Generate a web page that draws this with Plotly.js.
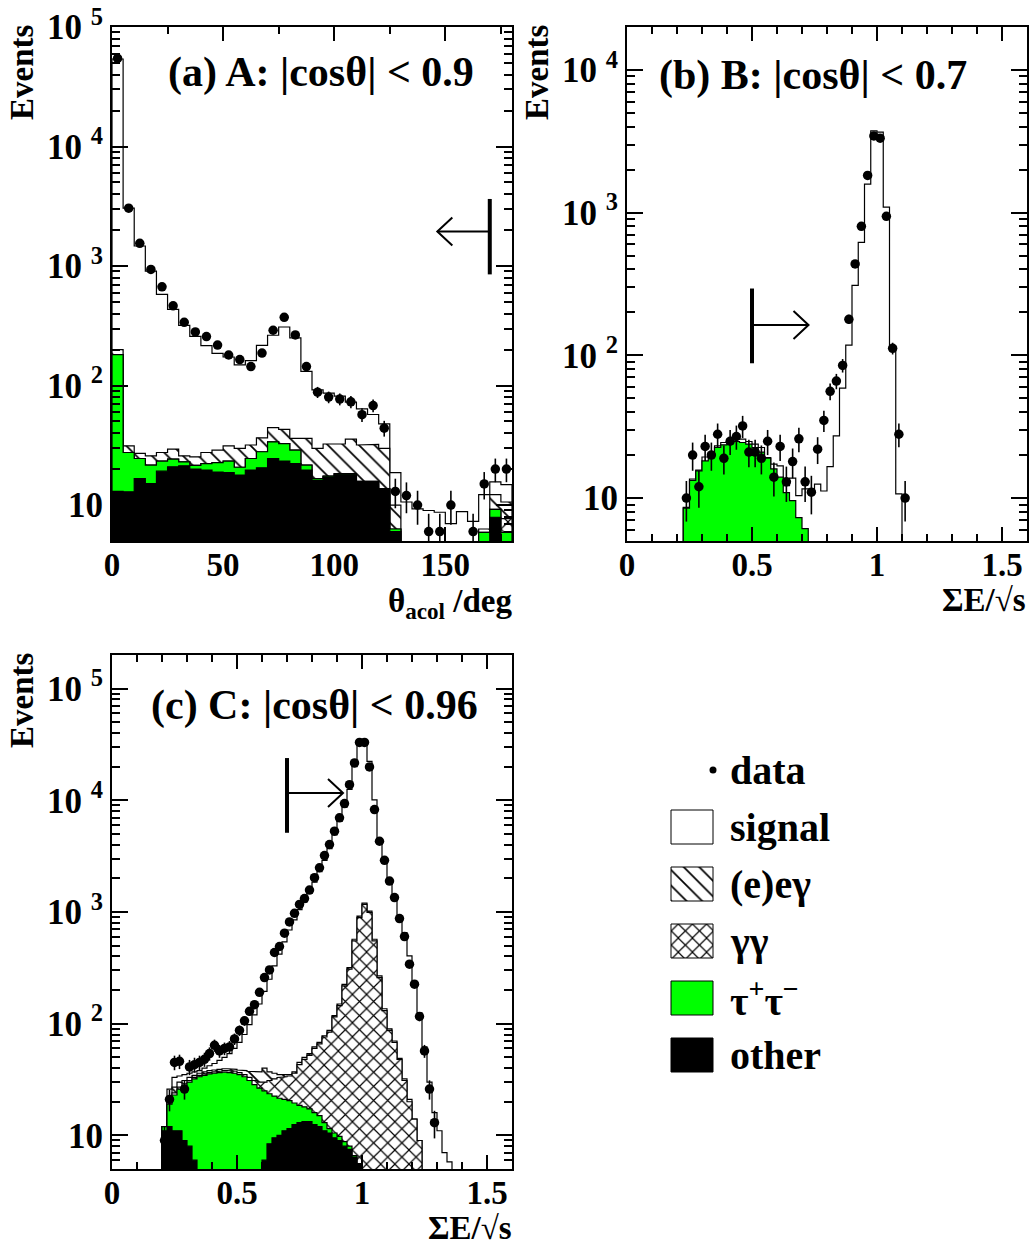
<!DOCTYPE html>
<html>
<head>
<meta charset="utf-8">
<script src="https://cdn.plot.ly/plotly-3.0.1.min.js"></script>
<style>html,body{margin:0;padding:0;background:#fff;} #chart{width:1029px;height:1246px;}</style>
</head>
<body>
<div id="chart"></div>
<script>
// ================= DATA =================
// Panel (a): theta_acol, 36 bins of 5 deg from 0 to 180
const binsA = {lo: 0, width: 5};
const dataA   = [54600,3050,1550,937,670,464,338,281,257,218,180,165,144,187,290,372,265,144,88,80,77,73,57,68,44,13,12,10,6,6,10,null,6,15,20,20];
const otherA  = [13,12.9,16.6,15.1,19.2,20.9,21.3,20.0,19.6,18.9,18.7,17.8,19.6,20.5,24.5,23.3,22.2,19.6,16.1,17.2,18.1,18.1,15.6,15.6,13.5,6.0,0,0,0,0,0,0,0,0,7.9,0];
const tauA    = [168,14.6,7.9,6.5,4.1,3.3,1.7,1.5,2.6,3.7,4.6,2.9,4.9,7.4,9.3,9.4,6.6,2.0,0.5,0.3,0.2,0.2,0.2,0.2,0.2,0.3,0,0,0,0,0,0,0,5.9,1.3,5.9];
const ggA     = [0,0,0,0,0,0,0,0,0,0,0,0,0,0,0,0,0,0,0,0,0,0,0,0,0,0,0,0,0,0,0,0,0,0,0,1.8];
const eegA    = [19,3.8,2.5,4.2,4.2,5.2,2.8,3.8,5.3,6.2,8.0,9.1,7.3,8.6,10.6,10.2,7.3,14.5,13.2,14.9,14.1,17.3,16.0,16.4,16.1,3.7,0,0,0,0,0,0,0,0.4,3.0,2.9];
const signalA = [53800,3019,1443,881,551,404,293,232,188,157,142,119,130,180,219,266,214,95,62,54,49,37,32,25,18,8.7,10.6,9.3,9.0,8.7,7.0,8.8,7.3,5.9,3.4,4.2];

// Panel (b): sum E / sqrt(s), 36 bins of 0.025 from 0.225
const binsB = {lo: 0.225, width: 0.025};
const dataB   = [10,20,12,23,20,28,19,25,27,32,21,21,19,25,14,23,13,18,26,13,11,22,35,56,66,85,179,437,802,1823,3450,3324,942,112,28,10];
const tauB    = [8.5,13.3,15.5,18.2,19.8,22.6,23.6,24.1,24.9,24.5,23.9,22.6,21,19,16,14,10.9,9.6,7.3,6.1,0,0,0,0,0,0,0,0,0,0,0,0,0,0,0,0];
const signalB = [0.1,0.3,0.2,1.2,1.1,0.6,0.9,1.8,1.2,1.4,1.0,1.3,1.6,0.2,1.3,2.8,1.3,4.2,3.1,5.5,11.6,12.5,11.2,16.6,27.3,59,118,309,619,1585,3740,3664,1094,116,10.7,0];

// Panel (c): sum E / sqrt(s), 59 bins of 0.02 from 0.20
const binsC = {lo: 0.20, width: 0.02};
const dataC   = [9,21,45,46,26,41,43,45,48,54,64,57,60,62,73,87,106,129,148,191,259,303,434,491,646,814,973,1170,1320,1570,2030,2490,3200,4020,5290,6970,9350,13800,21600,33000,33000,19900,8260,4300,2900,1890,1346,873,603,341,226,116,57,26,13,null,null,null,null];
const otherC  = [11,12,11,11,9,8,6,0,0,0,0,0,0,0,0,0,0,0,0,0,6,8.4,9.5,10,11,11.5,12.5,13,13.3,13.3,12.5,12,11,10.5,9.5,9,8,7.5,6.4,5.5,0,0,0,0,0,0,0,0,0,0,0,0,0,0,0,0,0,0,0];
const tauC    = [1,7,12,15,19,22,26,33.5,34.5,35.5,36,36.5,36.8,36.5,36,35,33.5,31,28.5,26.5,19,15.2,13,11.5,10,9,7,5.6,4.7,4,3.5,3,2,1,1,0.8,0.8,0.5,0.2,0.1,0,0,0,0,0,0,0,0,0,0,0,0,0,0,0,0,0,0,0];
const ggC     = [0,1,1,1,1,1,1,1,1,1,1,1,1.2,1.5,1.5,1.5,1.5,2,2.5,3.5,5,7.4,9.5,11.5,12.5,13.5,16.5,24.4,30,34.7,44,51,63,72.5,104.5,135.2,209.2,300,544.4,885.4,1170,990,551,259,131,87,68,48,31,20,14,9,0,0,0,0,0,0,0];
const eegC    = [0,2,3,3,2,2,1.5,1.5,1.5,1.5,1.5,1.5,1.5,1.5,1.5,2,3,4.5,6,7,10,6,4,2,1.5,1,1,2,2,2,2,2,2,3,3,5,7,10,19,29,30,30,19,9,5,3,2,1,1,1,0,0,0,0,0,0,0,0,0];
const signalC = [0,4,6,4,4,3,2.5,2,3,4,5.5,8,10.5,14.5,21,29.5,42,60.5,83,113,155,213,294,385,505,655,813,1005,1180,1426,1788,2232,2822,3613,4782,6350,8475,12182,19430,32080,31800,21280,9530,4252,2874,1870,1320,871,623,383,206,116,62,30,16,11,7,5.8,0];

// Tick labels
const xTicksA = [0, 50, 100, 150];
const xTickTextA = ['0', '50', '100', '150'];
const xTicksBC = [0, 0.5, 1, 1.5];
const xTickTextBC = ['0', '0.5', '1', '1.5'];
const yTicks = [10, 100, 1000, 10000, 100000];
const yTickText = ['10', '10 <sup>2</sup>', '10 <sup>3</sup>', '10 <sup>4</sup>', '10 <sup>5</sup>'];

// Cut arrows (selection cuts)
const cutA = {x: 170, yLow: 851, yHigh: 3640, yArrow: 1941, tip: 146.4, dir: -1};
const cutB = {x: 0.5, yLow: 88, yHigh: 294, yArrow: 163, tip: 0.726, dir: 1};
const cutC = {x: 0.7, yLow: 5120, yHigh: 23900, yArrow: 11650, tip: 0.924, dir: 1};

// ================= DRAWING =================
const W = 1029, H = 1246;
const FONT = 'Liberation Serif, Times New Roman, serif';
const FLOOR = 1e-2;
const px = v => v / W;
const py = v => 1 - v / H;

const STY = {
  other:  {fillcolor: 'black'},
  tau:    {fillcolor: '#00ff00'},
  gg:     {fillcolor: 'white', fillpattern: {shape: 'x', fgcolor: 'black', bgcolor: 'white', size: 10, solidity: 0.22}},
  eeg:    {fillcolor: 'white', fillpattern: {shape: '\\', fgcolor: 'black', bgcolor: 'white', size: 11, solidity: 0.16}},
  signal: {fillcolor: 'white'}
};

function stepPoly(lo, w, vals) {
  const xs = [lo], ys = [FLOOR];
  for (let i = 0; i < vals.length; i++) {
    const v = vals[i] > 0 ? vals[i] : FLOOR;
    xs.push(lo + i * w, lo + (i + 1) * w);
    ys.push(v, v);
  }
  xs.push(lo + vals.length * w, lo); ys.push(FLOOR, FLOOR);
  return [xs, ys];
}

const traces = [];
function addPanel(xa, ya, bins, layers, data) {
  let acc = layers[0][1].map(() => 0);
  const tops = layers.map(l => { acc = acc.map((a, i) => a + l[1][i]); return acc.slice(); });
  for (let j = layers.length - 1; j >= 0; j--) {
    const [xs, ys] = stepPoly(bins.lo, bins.width, tops[j]);
    traces.push(Object.assign({
      type: 'scatter', mode: 'lines', x: xs, y: ys, xaxis: xa, yaxis: ya,
      fill: 'toself', line: {color: 'black', width: 1.2}, hoverinfo: 'skip', showlegend: false
    }, STY[layers[j][0]]));
  }
  const centers = data.map((_, i) => bins.lo + (i + 0.5) * bins.width);
  traces.push({
    type: 'scatter', mode: 'markers', x: centers, y: data, xaxis: xa, yaxis: ya,
    marker: {color: 'black', size: 9.5}, cliponaxis: true, showlegend: false,
    error_y: {type: 'data', array: data.map(v => v == null ? 0 : Math.sqrt(v)), visible: true, color: 'black', thickness: 1.6, width: 0}
  });
}

addPanel('x', 'y', binsA, [['other', otherA], ['tau', tauA], ['gg', ggA], ['eeg', eegA], ['signal', signalA]], dataA);
addPanel('x2', 'y2', binsB, [['tau', tauB], ['signal', signalB]], dataB);
addPanel('x3', 'y3', binsC, [['other', otherC], ['tau', tauC], ['gg', ggC], ['eeg', eegC], ['signal', signalC]], dataC);

// ---- legend (drawn on a hidden helper axis in pixel units) ----
const legendItems = [
  ['signal', '<b>signal</b>'],
  ['eeg', '<b>(e)eγ</b>'],
  ['gg', '<b>γγ</b>'],
  ['tau', '<b>τ<sup>+</sup>τ<sup>−</sup></b>'],
  ['other', '<b>other</b>']
];
const LEG = {x0: 671, x1: 713, yFirst: 827, step: 57, half: 17, textX: 728, dataY: 770};
const annotations = [];
legendItems.forEach((it, i) => {
  const yc = LEG.yFirst + i * LEG.step;
  traces.push(Object.assign({
    type: 'scatter', mode: 'lines', xaxis: 'x4', yaxis: 'y4', fill: 'toself',
    x: [LEG.x0, LEG.x1, LEG.x1, LEG.x0, LEG.x0],
    y: [yc - LEG.half, yc - LEG.half, yc + LEG.half, yc + LEG.half, yc - LEG.half],
    line: {color: 'black', width: 1}, hoverinfo: 'skip', showlegend: false
  }, STY[it[0]]));
  annotations.push({xref: 'paper', yref: 'paper', x: px(LEG.textX), y: py(yc), xanchor: 'left', yanchor: 'middle',
    text: it[1], showarrow: false, font: {family: FONT, size: 40, color: 'black'}});
});
traces.push({type: 'scatter', mode: 'markers', xaxis: 'x4', yaxis: 'y4', x: [LEG.x1], y: [LEG.dataY],
  marker: {color: 'black', size: 7}, showlegend: false, hoverinfo: 'skip'});
annotations.push({xref: 'paper', yref: 'paper', x: px(LEG.textX), y: py(LEG.dataY), xanchor: 'left', yanchor: 'middle',
  text: '<b>data</b>', showarrow: false, font: {family: FONT, size: 40, color: 'black'}});

// ---- axes ----
function minorLin(lo, hi, step, majors) {
  const out = [];
  for (let v = lo; v < hi - 1e-9; v += step) {
    const r = Math.round(v * 1000) / 1000;
    if (!majors.some(m => Math.abs(m - r) < 1e-6) && r > 0) out.push(r);
  }
  return out;
}
function minorLog(maxExp) {
  const out = [];
  for (let e = 0; e <= maxExp; e++) for (let k = 2; k <= 9; k++) out.push(k * Math.pow(10, e));
  return out;
}
const tickFontX = {family: FONT, size: 33, color: 'black', weight: 'bold'};
const tickFontY = {family: FONT, size: 35, color: 'black', weight: 'bold'};
function xAxis(dom, range, vals, text, minorVals, anchor) {
  return {domain: dom, range: range, anchor: anchor, tickmode: 'array', tickvals: vals, ticktext: text,
    ticks: 'inside', ticklen: 14, tickwidth: 2, tickcolor: 'black', showline: true, linewidth: 2, linecolor: 'black',
    mirror: 'allticks', showgrid: false, zeroline: false, tickfont: tickFontX, ticklabelstandoff: -7,
    minor: {ticks: 'inside', ticklen: 7, tickwidth: 2, tickcolor: 'black', tickvals: minorVals, showgrid: false},
    fixedrange: true};
}
function yAxis(dom, range, anchor) {
  return {domain: dom, range: range, anchor: anchor, type: 'log', tickmode: 'array', tickvals: yTicks, ticktext: yTickText,
    ticks: 'inside', ticklen: 16, tickwidth: 2, tickcolor: 'black', showline: true, linewidth: 2, linecolor: 'black',
    mirror: 'allticks', showgrid: false, zeroline: false, tickfont: tickFontY, ticklabelstandoff: 0,
    minor: {ticks: 'inside', ticklen: 8, tickwidth: 2, tickcolor: 'black', tickvals: minorLog(5), showgrid: false},
    fixedrange: true};
}

const layout = {
  width: W, height: H, margin: {l: 0, r: 0, t: 0, b: 0},
  paper_bgcolor: 'white', plot_bgcolor: 'white', showlegend: false,
  font: {family: FONT, color: 'black'},
  xaxis:  xAxis([px(112), px(512)], [0, 180], xTicksA, xTickTextA, [25, 75, 125, 175], 'y'),
  yaxis:  yAxis([py(541), py(27)], [Math.log10(5), 5], 'x'),
  xaxis2: xAxis([px(627), px(1027)], [0, 1.6], xTicksBC, xTickTextBC, minorLin(0.1, 1.6, 0.1, xTicksBC), 'y2'),
  yaxis2: yAxis([py(541), py(27)], [Math.log10(5), Math.log10(2e4)], 'x2'),
  xaxis3: xAxis([px(112), px(512)], [0, 1.6], xTicksBC, xTickTextBC, minorLin(0.1, 1.6, 0.1, xTicksBC), 'y3'),
  yaxis3: yAxis([py(1169), py(655)], [Math.log10(5), Math.log10(2e5)], 'x3'),
  xaxis4: {domain: [px(650), px(860)], range: [650, 860], visible: false, anchor: 'y4', fixedrange: true},
  yaxis4: {domain: [py(1090), py(740)], range: [1090, 740], visible: false, anchor: 'x4', fixedrange: true},
  shapes: [],
  annotations: annotations
};

// cut arrows
[[cutA, 'x', 'y'], [cutB, 'x2', 'y2'], [cutC, 'x3', 'y3']].forEach(([c, xr, yr]) => {
  layout.shapes.push({type: 'line', xref: xr, yref: yr, x0: c.x, x1: c.x, y0: c.yLow, y1: c.yHigh, line: {color: 'black', width: 4}});
  layout.shapes.push({type: 'line', xref: xr, yref: yr, x0: c.x, x1: c.tip, y0: c.yArrow, y1: c.yArrow, line: {color: 'black', width: 2}});
  layout.shapes.push({type: 'path', xref: xr, yref: yr, xsizemode: 'pixel', ysizemode: 'pixel', xanchor: c.tip, yanchor: c.yArrow,
    path: 'M' + (-c.dir * 15) + ',14 L0,0 L' + (-c.dir * 15) + ',-14', line: {color: 'black', width: 2}});
});

// titles and axis labels
const big = {family: FONT, size: 42, color: 'black'};
const mid = {family: FONT, size: 33, color: 'black'};
function ann(x, y, text, font, xa, ya, extra) {
  annotations.push(Object.assign({xref: 'paper', yref: 'paper', x: px(x), y: py(y), text: text, font: font,
    showarrow: false, xanchor: xa, yanchor: ya}, extra || {}));
}
ann(321, 72, '<b>(a) A: |cosθ| &lt; 0.9</b>', big, 'center', 'middle');
ann(813, 75, '<b>(b) B: |cosθ| &lt; 0.7</b>', big, 'center', 'middle');
ann(314, 705, '<b>(c) C: |cosθ| &lt; 0.96</b>', big, 'center', 'middle');
ann(22, 22, '<b>Events</b>', mid, 'center', 'top', {textangle: -90});
ann(537, 22, '<b>Events</b>', mid, 'center', 'top', {textangle: -90});
ann(22, 650, '<b>Events</b>', mid, 'center', 'top', {textangle: -90});
ann(514, 603, '<b>θ<sub>acol</sub> /deg</b>', mid, 'right', 'middle');
ann(1028, 600, '<b>ΣE/√s</b>', mid, 'right', 'middle');
ann(514, 1228, '<b>ΣE/√s</b>', mid, 'right', 'middle');

Plotly.newPlot('chart', traces, layout, {displayModeBar: false, staticPlot: true});
</script>
</body>
</html>
